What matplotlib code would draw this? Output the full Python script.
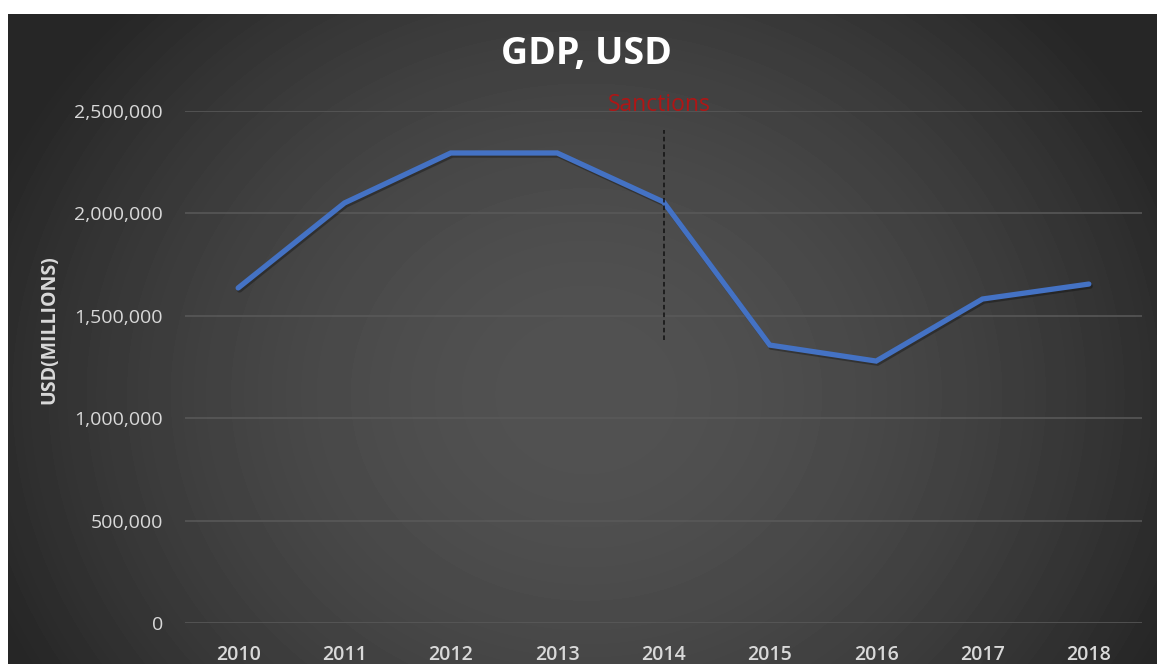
import matplotlib.pyplot as plt
import matplotlib.patheffects as pe
from matplotlib.ticker import FuncFormatter
import numpy as np

years = ['2010', '2011', '2012', '2013', '2014', '2015', '2016', '2017', '2018']
gdp = [1636000, 2051000, 2295000, 2295000, 2056000, 1357000, 1279000, 1582000, 1655000]
yticks = [0, 500000, 1000000, 1500000, 2000000, 2500000]
title = 'GDP, USD'
ylabel = 'USD(MILLIONS)'
event_year = '2014'
event_label = 'Sanctions'
event_span = [1382000, 2407000]

font = 'Open Sans'
line_col = '#4472c4'
tick_col = '#d9d9d9'
grid_col = '#5a5a5a'

W, H = 1157, 664
fig = plt.figure(figsize=(W / 100, H / 100), dpi=100)
fig.patch.set_facecolor('white')

# dark radial backdrop, white strip left and top
bg = fig.add_axes([8 / W, 0, (W - 8) / W, (H - 14) / H])
bw, bh = W - 8, H - 14
yy, xx = np.mgrid[0:bh, 0:bw]
r = np.hypot((xx - 578) / 640, (yy - 380) / 560)
shade = 0x52 - (0x52 - 0x26) * np.clip(r, 0, 1) ** 1.8
bg.imshow(shade, cmap='gray', vmin=0, vmax=255, aspect='auto',
          interpolation='bilinear')
bg.set_axis_off()

ax = fig.add_axes([185 / W, 41 / H, 957 / W, 512 / H])
ax.patch.set_alpha(0)
x = np.arange(len(years))
ax.plot(x, gdp, color=line_col, lw=3.8, solid_joinstyle='miter',
        solid_capstyle='round',
        path_effects=[pe.SimpleLineShadow(offset=(1, -1.5), alpha=0.3),
                      pe.Normal()])

ei = years.index(event_year)
ax.vlines(ei, event_span[0], event_span[1], colors='#111111', lw=1.1,
          linestyles=(0, (3, 2)))
ax.text(ei - 0.04, 2530000, event_label, color='#b01515', fontsize=16.5,
        family=font, ha='center', va='center', clip_on=False)

ax.set_xlim(-0.5, len(years) - 0.5)
ax.set_ylim(0, 2500000)
ax.set_xticks(x)
ax.set_xticklabels(years)
ax.set_yticks(yticks)
ax.yaxis.set_major_formatter(FuncFormatter(lambda v, p: f'{int(v):,}'))
ax.yaxis.grid(True, color=grid_col, lw=1.1)
ax.set_axisbelow(True)
for s in ax.spines.values():
    s.set_visible(False)
ax.tick_params(length=0)
ax.tick_params(axis='y', pad=16, labelsize=14, labelcolor=tick_col)
ax.tick_params(axis='x', pad=16, labelsize=14, labelcolor=tick_col)
for t in ax.get_yticklabels():
    t.set_family(font)
for t in ax.get_xticklabels():
    t.set_family(font)
    t.set_fontweight('semibold')

fig.text(586 / W, 1 - 54 / H, title, ha='center', va='center', fontsize=27,
         fontweight='bold', color='white', family=font)
fig.text(49 / W, 1 - 330 / H, ylabel, ha='center', va='center', rotation=90,
         fontsize=14, fontweight='bold', color=tick_col, family=font)

fig.savefig('out.png', dpi=100, facecolor=fig.get_facecolor())
